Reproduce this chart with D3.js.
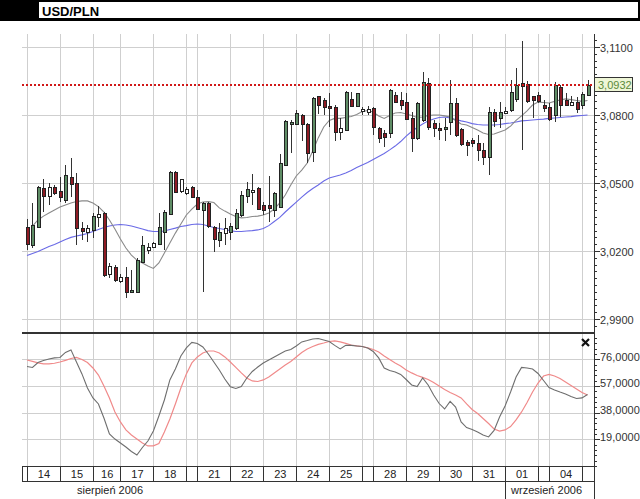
<!DOCTYPE html>
<html><head><meta charset="utf-8">
<script src="https://cdn.jsdelivr.net/npm/d3@7"></script>
<style>
html,body{margin:0;padding:0;background:#fff;}
svg{display:block;font-family:"Liberation Sans",Arial,sans-serif;}
</style></head><body>
<svg id="c" width="640" height="499"></svg>
<script>
// ---------- DATA (4-hour candles, 14 Aug – 05 Sep 2006) ----------
const title = "USD/PLN";
const lastPrice = 3.0932;
const openV = [3.0307,3.0226,3.0307,3.0477,3.0440,3.0481,3.0466,3.0425,3.0528,3.0499,
 3.0300,3.0285,3.0293,3.0349,3.0366,3.0099,3.0131,3.0069,3.0087,3.0020,
 3.0020,3.0153,3.0207,3.0216,3.0234,3.0285,3.0366,3.0550,3.0462,3.0455,
 3.0484,3.0440,3.0381,3.0410,3.0307,3.0249,3.0278,3.0285,3.0300,3.0359,
 3.0440,3.0460,3.0477,3.0403,3.0403,3.0384,3.0395,3.0579,3.0760,3.0760,
 3.0800,3.0760,3.0638,3.0884,3.0866,3.0840,3.0834,3.0722,3.0737,3.0869,
 3.0837,3.0815,3.0810,3.0830,3.0741,3.0719,3.0719,3.0888,3.0866,3.0859,
 3.0785,3.0697,3.0778,3.0943,3.0763,3.0744,3.0738,3.0768,3.0852,3.0738,
 3.0680,3.0690,3.0675,3.0646,3.0616,3.0815,3.0785,3.0812,3.0822,3.0871,
 3.0925,3.0935,3.0884,3.0888,3.0844,3.0837,3.0800,3.0925,3.0866,3.0847,
 3.0859,3.0841,3.0888];
const highV = [3.0340,3.0410,3.0487,3.0516,3.0501,3.0491,3.0528,3.0579,3.0609,3.0543,
 3.0329,3.0315,3.0366,3.0399,3.0373,3.0146,3.0138,3.0098,3.0128,3.0116,
 3.0168,3.0266,3.0234,3.0241,3.0366,3.0381,3.0554,3.0554,3.0518,3.0484,
 3.0486,3.0469,3.0418,3.0418,3.0310,3.0325,3.0344,3.0322,3.0384,3.0465,
 3.0506,3.0538,3.0484,3.0418,3.0531,3.0462,3.0628,3.0778,3.0778,3.0822,
 3.0804,3.0763,3.0881,3.0886,3.0874,3.0898,3.0844,3.0785,3.0905,3.0903,
 3.0898,3.0834,3.0840,3.0834,3.0746,3.0734,3.0913,3.0903,3.0903,3.0896,
 3.0812,3.0859,3.0988,3.0965,3.0778,3.0763,3.0785,3.0954,3.0874,3.0741,
 3.0690,3.0697,3.0712,3.0675,3.0837,3.0826,3.0859,3.0837,3.0954,3.1006,
 3.1126,3.0950,3.0885,3.0900,3.0866,3.0852,3.0947,3.0932,3.0896,3.0885,
 3.0881,3.0900,3.0954];
const lowV = [3.0204,3.0212,3.0301,3.0373,3.0403,3.0447,3.0418,3.0410,3.0440,3.0226,
 3.0249,3.0241,3.0256,3.0307,3.0087,3.0080,3.0065,3.0060,2.9991,3.0013,
 3.0015,3.0148,3.0187,3.0212,3.0226,3.0204,3.0359,3.0460,3.0455,3.0447,
 3.0433,3.0381,3.0020,3.0301,3.0196,3.0219,3.0226,3.0249,3.0293,3.0351,
 3.0410,3.0403,3.0381,3.0359,3.0329,3.0351,3.0388,3.0575,3.0631,3.0756,
 3.0687,3.0587,3.0594,3.0804,3.0800,3.0748,3.0687,3.0690,3.0728,3.0834,
 3.0834,3.0800,3.0800,3.0712,3.0678,3.0660,3.0697,3.0854,3.0822,3.0778,
 3.0638,3.0690,3.0770,3.0734,3.0704,3.0690,3.0685,3.0712,3.0704,3.0665,
 3.0620,3.0660,3.0597,3.0579,3.0535,3.0748,3.0744,3.0803,3.0815,3.0859,
 3.0646,3.0852,3.0785,3.0852,3.0812,3.0774,3.0770,3.0793,3.0840,3.0844,
 3.0807,3.0826,3.0885];
const closeV = [3.0234,3.0315,3.0484,3.0440,3.0481,3.0455,3.0440,3.0535,3.0496,3.0300,
 3.0285,3.0303,3.0354,3.0363,3.0094,3.0134,3.0072,3.0087,3.0020,3.0028,
 3.0160,3.0226,3.0219,3.0234,3.0307,3.0373,3.0550,3.0462,3.0516,3.0472,
 3.0440,3.0388,3.0413,3.0307,3.0253,3.0285,3.0300,3.0310,3.0366,3.0447,
 3.0472,3.0469,3.0384,3.0381,3.0388,3.0457,3.0587,3.0775,3.0770,3.0807,
 3.0760,3.0631,3.0876,3.0844,3.0837,3.0830,3.0722,3.0741,3.0903,3.0840,
 3.0896,3.0825,3.0825,3.0748,3.0697,3.0702,3.0910,3.0859,3.0844,3.0785,
 3.0697,3.0852,3.0947,3.0748,3.0741,3.0737,3.0748,3.0852,3.0712,3.0671,
 3.0668,3.0675,3.0646,3.0616,3.0815,3.0774,3.0812,3.0818,3.0903,3.0932,
 3.0940,3.0859,3.0866,3.0862,3.0830,3.0785,3.0932,3.0844,3.0844,3.0859,
 3.0830,3.0891,3.0932];
// candles drawn as neutral (hollow) bars in the source
const neutralBars = [4,11,13,15,17,22,23,28,29,36,41,57,61,62,87,90,99];
// short moving average (grey) and long moving average (blue)
const maShort = [null,3.0310,3.0337,3.0354,3.0368,3.0381,3.0394,3.0403,3.0412,3.0418,
 3.0421,3.0421,3.0412,3.0396,3.0372,3.0337,3.0297,3.0253,3.0213,3.0182,
 3.0160,3.0147,3.0134,3.0123,3.0147,3.0191,3.0235,3.0279,3.0319,3.0359,
 3.0385,3.0407,3.0416,3.0418,3.0414,3.0390,3.0376,3.0363,3.0352,3.0346,
 3.0348,3.0352,3.0354,3.0359,3.0368,3.0385,3.0412,3.0447,3.0491,3.0531,
 3.0557,3.0588,3.0641,3.0699,3.0747,3.0776,3.0785,3.0785,3.0789,3.0793,
 3.0802,3.0815,3.0820,3.0813,3.0796,3.0785,3.0798,3.0809,3.0811,3.0804,
 3.0798,3.0789,3.0791,3.0798,3.0800,3.0800,3.0796,3.0791,3.0776,3.0760,
 3.0756,3.0745,3.0734,3.0721,3.0714,3.0716,3.0725,3.0734,3.0751,3.0776,
 3.0796,3.0818,3.0844,3.0857,3.0855,3.0853,3.0860,3.0866,3.0871,3.0868,
 3.0864,3.0860,3.0864];
const maLong = [3.0180,3.0189,3.0198,3.0209,3.0220,3.0229,3.0240,3.0251,3.0260,3.0266,
 3.0271,3.0277,3.0286,3.0295,3.0304,3.0310,3.0315,3.0317,3.0315,3.0310,
 3.0304,3.0297,3.0290,3.0286,3.0286,3.0288,3.0295,3.0301,3.0308,3.0312,
 3.0317,3.0319,3.0317,3.0310,3.0304,3.0299,3.0295,3.0290,3.0286,3.0286,
 3.0288,3.0290,3.0293,3.0299,3.0312,3.0330,3.0348,3.0372,3.0394,3.0416,
 3.0438,3.0458,3.0476,3.0491,3.0509,3.0522,3.0529,3.0535,3.0544,3.0555,
 3.0568,3.0579,3.0590,3.0604,3.0617,3.0630,3.0646,3.0663,3.0683,3.0707,
 3.0727,3.0745,3.0760,3.0774,3.0782,3.0789,3.0791,3.0787,3.0780,3.0774,
 3.0769,3.0762,3.0758,3.0756,3.0756,3.0756,3.0758,3.0762,3.0765,3.0769,
 3.0774,3.0776,3.0778,3.0780,3.0782,3.0785,3.0787,3.0789,3.0791,3.0793,
 3.0796,3.0798,3.0800];
// stochastic oscillator %K (grey) and %D (red)
const stochK = [70.9,70.2,73.7,75.2,76.2,77.0,77.3,80.9,82.7,74.1,
 65.6,55.6,48.5,44.2,34.2,22.8,19.2,16.4,13.5,10.3,
 7.8,13.2,17.8,24.9,35.6,47.0,61.3,69.1,78.4,84.1,
 88.0,87.3,84.8,79.8,74.1,68.4,62.0,56.5,55.2,56.6,
 62.7,67.3,70.5,73.4,75.5,77.7,79.8,81.9,83.0,85.5,
 88.4,89.4,90.5,90.8,89.8,88.7,85.9,83.4,85.9,85.9,
 85.5,85.1,84.1,81.6,77.0,69.8,68.0,67.0,65.2,61.6,
 57.7,56.6,62.7,57.7,50.6,44.5,40.6,46.0,42.0,31.4,
 27.4,26.0,24.2,22.1,20.7,25.3,34.9,42.8,52.7,63.4,
 70.2,69.8,69.1,65.9,60.9,55.9,54.2,52.7,51.3,49.5,
 48.1,48.5,50.9];
const stochD = [75.5,74.5,73.4,72.7,72.7,73.2,74.1,75.2,76.6,77.3,
 75.9,73.7,69.8,64.8,57.0,48.5,38.5,31.4,25.7,22.1,
 19.2,16.4,14.3,14.3,16.0,24.2,33.5,44.2,55.6,65.6,
 73.4,77.7,80.5,81.9,81.9,80.5,77.7,74.1,70.2,66.3,
 62.7,60.6,60.2,61.3,63.4,66.3,69.1,72.0,74.5,77.7,
 80.9,83.4,85.1,86.6,87.6,88.7,89.1,88.4,87.3,86.2,
 85.5,85.1,84.1,83.0,81.2,78.4,75.9,73.4,71.3,68.4,
 66.3,64.5,63.1,61.6,59.5,57.0,54.5,52.4,50.6,48.5,
 44.2,40.3,37.4,33.8,30.3,26.4,24.9,25.7,28.1,32.8,
 38.5,45.2,52.7,59.1,64.1,65.2,64.1,62.3,59.8,57.4,
 54.9,52.4,50.6];
// session boundaries (bar index where each day starts) and their labels
const dayStart = [0,6,12,17,23,29,31,37,43,49,55,61,63,69,75,81,87,93,95,101];
const dayLabels = ["14","15","16","17","18","","21","22","23","24","25","","28","29","30","31","01","","04",""];
const months = [{label:"sierpień 2006", bar:-1}, {label:"wrzesień 2006", bar:87}];
const priceTicks = [2.99,3.02,3.05,3.08,3.11];
const oscTicks = [19,38,57,76];

// ---------- LAYOUT ----------
const svg = d3.select("#c");
const L = 22, R = 594, T = 34, SEP = 333, OB = 466, ROWB = 481;
const n = closeV.length;
const x = d3.scaleLinear().domain([0, 102]).range([27, 587.5]);
const y = d3.scaleLinear().domain([2.99, 3.11]).range([319, 47]);
const yo = d3.scaleLinear().domain([0, 76]).range([466, 359.3]);
const fmt = v => d3.format(".4f")(v).replace(".", ",");

const defs = svg.append("defs");
defs.append("clipPath").attr("id","cm").append("rect").attr("x",L).attr("y",T).attr("width",R-L).attr("height",SEP-T);
defs.append("clipPath").attr("id","co").append("rect").attr("x",L).attr("y",SEP+1).attr("width",R-L).attr("height",OB-SEP-1);

// header
svg.append("rect").attr("x",0).attr("y",0).attr("width",640).attr("height",21).attr("fill","#000");
svg.append("rect").attr("x",39).attr("y",2).attr("width",599).attr("height",16).attr("fill","#fff");
svg.append("text").attr("x",42).attr("y",15.5).attr("font-size",13).attr("font-weight","bold").attr("fill","#000").text(title);

// grids
const grid = svg.append("g").attr("stroke","#cfcfcf").attr("stroke-width",1).attr("shape-rendering","crispEdges");
grid.selectAll(".vg").data(dayStart).join("line")
  .attr("x1",d=>Math.round(x(d))+0.5).attr("x2",d=>Math.round(x(d))+0.5).attr("y1",T).attr("y2",OB);
grid.selectAll(".hg").data(priceTicks).join("line")
  .attr("x1",L).attr("x2",R).attr("y1",d=>Math.round(y(d))+0.5).attr("y2",d=>Math.round(y(d))+0.5);
grid.selectAll(".og").data(oscTicks).join("line")
  .attr("x1",L).attr("x2",R).attr("y1",d=>Math.round(yo(d))+0.5).attr("y2",d=>Math.round(yo(d))+0.5);

// main panel
const main = svg.append("g").attr("clip-path","url(#cm)");
const idx = d3.range(n);
main.append("path").datum(idx)
  .attr("d", d3.line().x(i=>x(i)).y(i=>y(maLong[i])))
  .attr("fill","none").attr("stroke","#6a6ae6").attr("stroke-width",1.1);
main.append("path").datum(idx)
  .attr("d", d3.line().defined(i=>maShort[i]!=null).x(i=>x(i)).y(i=>y(maShort[i])))
  .attr("fill","none").attr("stroke","#8a8a8a").attr("stroke-width",1.1);

const cg = main.append("g").attr("shape-rendering","crispEdges");
const colorOf = i => neutralBars.includes(i) ? "#ffffff" : (closeV[i] >= openV[i] ? "#5f8d66" : "#8e1b24");
cg.selectAll(".wick").data(idx).join("line")
  .attr("x1",i=>Math.round(x(i))+0.5).attr("x2",i=>Math.round(x(i))+0.5)
  .attr("y1",i=>y(highV[i])).attr("y2",i=>y(lowV[i]))
  .attr("stroke","#333").attr("stroke-width",1);
cg.selectAll(".body").data(idx).join("rect")
  .attr("x",i=>Math.round(x(i))-0.5)
  .attr("y",i=>Math.round(y(Math.max(openV[i],closeV[i])))+0.5)
  .attr("width",3)
  .attr("height",i=>Math.max(2, Math.round(y(Math.min(openV[i],closeV[i])) - y(Math.max(openV[i],closeV[i])))))
  .attr("fill",colorOf).attr("stroke","#222").attr("stroke-width",1);

// last price dotted line
svg.append("line").attr("x1",L).attr("x2",R).attr("y1",y(lastPrice)).attr("y2",y(lastPrice))
  .attr("stroke","#d01818").attr("stroke-width",2).attr("stroke-dasharray","2,2");

// separator
svg.append("line").attr("x1",L).attr("x2",R).attr("y1",SEP).attr("y2",SEP).attr("stroke","#333").attr("stroke-width",2);

// oscillator
const osc = svg.append("g").attr("clip-path","url(#co)");
osc.append("path").datum(idx).attr("d", d3.line().x(i=>x(i)).y(i=>yo(stochD[i])))
  .attr("fill","none").attr("stroke","#f08a8a").attr("stroke-width",1.2);
osc.append("path").datum(idx).attr("d", d3.line().x(i=>x(i)).y(i=>yo(stochK[i])))
  .attr("fill","none").attr("stroke","#6e6e6e").attr("stroke-width",1.1);

// close icon
svg.append("path").attr("d","M582,339L589,346M589,339L582,346").attr("stroke","#111").attr("stroke-width",2.2);

// right axes
const ax = svg.append("g").attr("shape-rendering","crispEdges").attr("stroke","#333");
ax.append("line").attr("x1",R+0.5).attr("x2",R+0.5).attr("y1",T).attr("y2",499);
const minorP = d3.range(2.987, 3.1151, 0.003);
ax.selectAll(".mp").data(minorP).join("line")
  .attr("x1",R).attr("x2",R+3).attr("y1",d=>Math.round(y(d))+0.5).attr("y2",d=>Math.round(y(d))+0.5);
ax.selectAll(".Mp").data(priceTicks).join("line")
  .attr("x1",R).attr("x2",R+6).attr("y1",d=>Math.round(y(d))+0.5).attr("y2",d=>Math.round(y(d))+0.5);
const minorO = d3.range(0, 95, 3.8);
ax.selectAll(".mo").data(minorO).join("line")
  .attr("x1",R).attr("x2",R+3).attr("y1",d=>Math.round(yo(d))+0.5).attr("y2",d=>Math.round(yo(d))+0.5);
ax.selectAll(".Mo").data(oscTicks).join("line")
  .attr("x1",R).attr("x2",R+6).attr("y1",d=>Math.round(yo(d))+0.5).attr("y2",d=>Math.round(yo(d))+0.5);

const lab = svg.append("g").attr("font-size",11).attr("fill","#333");
lab.selectAll(".pl").data(priceTicks).join("text")
  .attr("x",600).attr("y",d=>y(d)+4.5).text(fmt);
lab.selectAll(".ol").data(oscTicks).join("text")
  .attr("x",600).attr("y",d=>yo(d)+1.5).text(fmt);

// last price tag
const ly = y(lastPrice);
svg.append("rect").attr("x",R+0.5).attr("y",Math.round(ly)-7.5).attr("width",38).attr("height",14)
  .attr("fill","#eef6d6").attr("stroke","#333").attr("stroke-width",1);
svg.append("text").attr("x",598).attr("y",ly+4).attr("font-size",11).attr("fill","#5c8a3a").text(fmt(lastPrice));

// date row
const row = svg.append("g").attr("shape-rendering","crispEdges").attr("stroke","#333");
row.append("rect").attr("x",L+0.5).attr("y",OB+0.5).attr("width",R-L).attr("height",ROWB-OB).attr("fill","none");
row.selectAll(".ds").data(dayStart).join("line")
  .attr("x1",d=>Math.round(x(d))+0.5).attr("x2",d=>Math.round(x(d))+0.5).attr("y1",OB).attr("y2",ROWB);
const cellEnd = k => k+1 < dayStart.length ? x(dayStart[k+1]) : R;
svg.append("g").attr("font-size",11).attr("fill","#222").attr("text-anchor","middle")
  .selectAll("text").data(dayLabels).join("text")
  .attr("x",(d,k)=>(x(dayStart[k])+cellEnd(k))/2+0.5).attr("y",OB+11.5).text(d=>d);
row.append("line").attr("x1",Math.round(x(87))+0.5).attr("x2",Math.round(x(87))+0.5).attr("y1",ROWB).attr("y2",499);
svg.append("g").attr("font-size",11).attr("fill","#222")
  .selectAll("text").data(months).join("text")
  .attr("x",d=> d.bar < 0 ? 77 : x(d.bar)+6).attr("y",494).text(d=>d.label);
</script>
</body></html>
